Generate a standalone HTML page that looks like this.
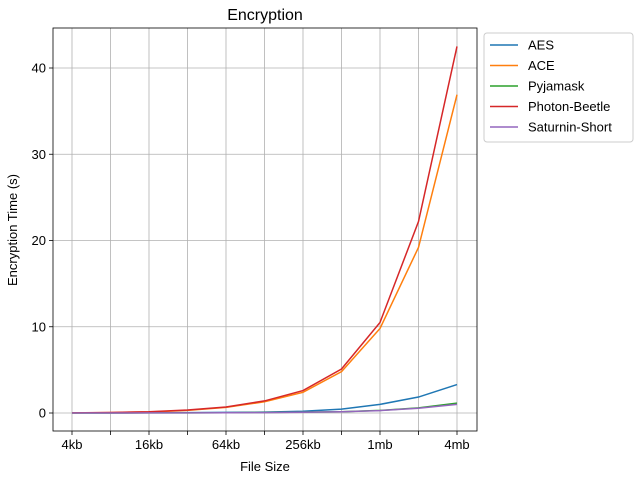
<!DOCTYPE html>
<html><head><meta charset="utf-8"><style>
body{margin:0;background:#fff;}
svg{font-family:"Liberation Sans",sans-serif;}
</style></head><body>
<svg id="chart" width="640" height="480">
<text x="265" y="20" font-size="16" text-anchor="middle">Encryption</text>
<g id="grid"></g><g id="series"></g><g id="axes"></g>
<text x="265" y="471" font-size="13" text-anchor="middle">File Size</text>
<text x="17" y="230" font-size="13" text-anchor="middle" transform="rotate(-90 17 230)">Encryption Time (s)</text>
<g id="legend"></g>
</svg>
<script>
const categories=["4kb","8kb","16kb","32kb","64kb","128kb","256kb","512kb","1mb","2mb","4mb"];
const seriesNames=["AES","ACE","Pyjamask","Photon-Beetle","Saturnin-Short"];
const seriesColors=["#1f77b4","#ff7f0e","#2ca02c","#d62728","#9467bd"];
const aes=[0.01,0.02,0.03,0.05,0.07,0.1,0.2,0.45,1.0,1.85,3.3];
const ace=[0.02,0.05,0.12,0.3,0.65,1.3,2.4,4.8,9.8,19.2,36.9];
const pyjamask=[0,0,0.01,0.02,0.03,0.06,0.1,0.15,0.3,0.6,1.15];
const photon=[0.02,0.06,0.15,0.35,0.7,1.4,2.6,5.1,10.5,22.2,42.5];
const saturnin=[0,0,0.01,0.02,0.03,0.05,0.08,0.14,0.28,0.55,1.0];
const yTicks=[0,10,20,30,40];
const seriesValues=[aes,ace,pyjamask,photon,saturnin];
const NS="http://www.w3.org/2000/svg";
const L=53,R=477,T=28,B=431;
const xs=i=>72+i*(457-72)/(categories.length-1);
const ys=v=>413-v*(413-68)/40;
function mk(t,a,p){const e=document.createElementNS(NS,t);for(const k in a)e.setAttribute(k,a[k]);p.appendChild(e);return e;}
const grid=document.getElementById('grid'),axes=document.getElementById('axes'),ser=document.getElementById('series'),leg=document.getElementById('legend');
categories.forEach((c,i)=>{
 const g=mk('line',{x1:xs(i),x2:xs(i),y1:T,y2:B,stroke:'#b0b0b0','stroke-width':0.8},grid);
 
 const t=mk('line',{x1:xs(i),x2:xs(i),y1:B,y2:B+4,stroke:'#000','stroke-width':0.8},axes);
 
 if(i%2==0){const tx=mk('text',{x:xs(i),y:B+18,'font-size':13,'text-anchor':'middle'},axes);tx.textContent=c;
 }
});
yTicks.forEach(v=>{
 const g=mk('line',{x1:L,x2:R,y1:ys(v),y2:ys(v),stroke:'#b0b0b0','stroke-width':0.8},grid);
 
 const t=mk('line',{x1:L-4,x2:L,y1:ys(v),y2:ys(v),stroke:'#000','stroke-width':0.8},axes);
 
 const tx=mk('text',{x:L-7,y:ys(v)+4.5,'font-size':13,'text-anchor':'end'},axes);tx.textContent=v;
 
});
const fr=mk('rect',{x:L,y:T,width:R-L,height:B-T,fill:'none',stroke:'#000','stroke-width':0.8},axes);

seriesValues.forEach((vals,s)=>{
 const p=mk('polyline',{points:vals.map((v,i)=>xs(i)+','+ys(v)).join(' '),fill:'none',stroke:seriesColors[s],'stroke-width':1.5},ser);
 
});
const box=mk('rect',{x:484,y:33,width:149,height:109,fill:'#fff',stroke:'#ccc',rx:3},leg);

seriesNames.forEach((n,s)=>{
 const y=45+s*20.5;
 const l=mk('line',{x1:490,x2:518,y1:y,y2:y,stroke:seriesColors[s],'stroke-width':1.5},leg);
 
 const t=mk('text',{x:528,y:y+4.5,'font-size':13},leg);t.textContent=n;
 
});
</script>
</body></html>
